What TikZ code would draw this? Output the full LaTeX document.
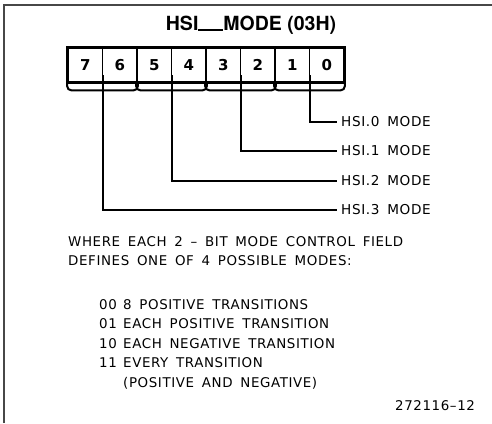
\documentclass[tikz,border=0pt]{standalone}
\usepackage{fontspec}
\setmainfont{Liberation Sans}
\newfontfamily\titlefont{TeX Gyre Heros}
\newfontfamily\plotfont[LetterSpace=4.5,WordSpace=1.6]{DejaVu Sans}
\newfontfamily\digitfont{DejaVu Sans}
\begin{document}
\begin{tikzpicture}[x=1pt,y=-1pt,
  frameline/.style={draw=black!72,line width=2pt},
  cell/.style={draw,line width=1.6pt,minimum width=34.5pt,minimum height=34pt,
    inner sep=0pt,font=\digitfont\bfseries\fontsize{15}{15}\selectfont},
  regline/.style={line width=3pt},
  lead/.style={line width=2pt},
  lbl/.style={anchor=west,inner sep=0pt,font=\plotfont\fontsize{13.6}{14}\selectfont},
  body/.style={anchor=base west,inner sep=0pt,font=\plotfont\fontsize{13.4}{14}\selectfont}]
\useasboundingbox (0,0) rectangle (492,423);
% frame (top and left edges only)
\draw[frameline] (3.5,423) -- (3.5,4.5) -- (492,4.5);
% title
\node[inner sep=0pt,font=\titlefont\bfseries\fontsize{19.5}{20}\selectfont] (title) at (251,25)
  {HSI\rule[-0.5pt]{25pt}{2pt}MODE (03H)};
% register cells, bit 7 on the left
\foreach \b in {0,...,7}
  \node[cell] (b\b) at ({344-34.5*\b-17.25},65) {\b};
\draw[regline] (b7.north west) rectangle (b0.south east);
% two-bit field braces and their centre points
\foreach \hi/\lo in {7/6,5/4,3/2,1/0}{
  \draw[lead,rounded corners=4pt] (b\hi.south west) -- ++(0,7.5) -| (b\lo.south east);
  \coordinate (f\lo) at ([yshift=7.5pt]b\hi.south east);
}
% mode labels
\node[lbl] (m0) at (341,122) {HSI.0 MODE};
\node[lbl] (m1) at (341,151) {HSI.1 MODE};
\node[lbl] (m2) at (341,181) {HSI.2 MODE};
\node[lbl] (m3) at (341,210) {HSI.3 MODE};
% leads from each field to its label
\draw[lead] (f0) |- ([xshift=-4pt]m0.west);
\draw[lead] (f2) |- ([xshift=-4pt]m1.west);
\draw[lead] (f4) |- ([xshift=-4pt]m2.west);
\draw[lead] (f6) |- ([xshift=-4pt]m3.west);
% explanatory text
\node[body] (t1) at (68,246.5) {WHERE EACH 2 – BIT MODE CONTROL FIELD};
\node[body] (t2) at (68,265) {DEFINES ONE OF 4 POSSIBLE MODES:};
\node[body] (c0) at (99,309.5) {00};
\node[body] (d0) at (123,309.5) {8 POSITIVE TRANSITIONS};
\node[body] (c1) at (99,328.5) {01};
\node[body] (d1) at (123,328.5) {EACH POSITIVE TRANSITION};
\node[body] (c2) at (99,348) {10};
\node[body] (d2) at (123,348) {EACH NEGATIVE TRANSITION};
\node[body] (c3) at (99,367.5) {11};
\node[body] (d3) at (123,367.5) {EVERY TRANSITION};
\node[body] (d4) at (123,387) {(POSITIVE AND NEGATIVE)};
\node[body] (fig) at (395,410) {272116–12};
\end{tikzpicture}
\end{document}
